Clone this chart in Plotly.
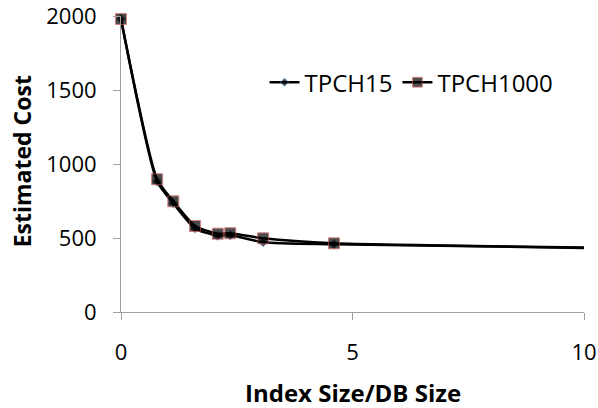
import plotly.graph_objects as go

x_vals = [0, 0.78, 1.13, 1.60, 2.09, 2.36, 3.07, 4.60, 10.0]
tpch15 = [1980, 882, 735, 565, 515, 518, 472, 458, 433]
tpch1000 = [1980, 897, 748, 581, 529, 532, 498, 464, 436]
marker_shown = [1, 1, 1, 1, 1, 1, 1, 1, 0]

x_ticks = [0, 5, 10]
y_ticks = [0, 500, 1000, 1500, 2000]

x_title = "Index Size/DB Size"
y_title = "Estimated Cost"

font_family = "Open Sans, Lato, sans-serif"

fig = go.Figure()
fig.add_trace(go.Scatter(
    x=x_vals, y=tpch15, name="TPCH15", mode="lines+markers",
    line=dict(color="black", width=2.5, shape="spline", smoothing=0.6),
    marker=dict(symbol="diamond", size=[7 * m for m in marker_shown], color="black",
                line=dict(color="#4F81BD", width=1)),
    cliponaxis=False,
))
fig.add_trace(go.Scatter(
    x=x_vals, y=tpch1000, name="TPCH1000", mode="lines+markers",
    line=dict(color="black", width=2.5, shape="spline", smoothing=0.6),
    marker=dict(symbol="square", size=[11 * m for m in marker_shown], color="black",
                line=dict(color="#C0504D", width=1)),
    cliponaxis=False,
))

fig.update_layout(
    width=598, height=408,
    margin=dict(l=121, r=14, t=16, b=96, autoexpand=False),
    paper_bgcolor="white", plot_bgcolor="white",
    font=dict(family=font_family, size=22, color="black"),
    showlegend=True,
    legend=dict(orientation="h", x=0.31, y=0.775, xanchor="left", yanchor="middle",
                font=dict(size=24), bgcolor="rgba(0,0,0,0)", itemwidth=30,
                tracegroupgap=0),
    xaxis=dict(
        range=[0, 10], tickvals=x_ticks, ticktext=[str(v) for v in x_ticks],
        showgrid=False, zeroline=False, showline=True, linecolor="#A0A0A0", linewidth=1,
        ticks="outside", ticklen=7, tickcolor="#A0A0A0", ticklabelstandoff=14,
        ticklabeloverflow="allow", automargin=False,
    ),
    yaxis=dict(
        range=[0, 2000], tickvals=y_ticks, ticktext=[str(v) for v in y_ticks],
        showgrid=False, zeroline=False, showline=True, linecolor="#A0A0A0", linewidth=1,
        ticks="outside", ticklen=7, tickcolor="#A0A0A0", ticklabelstandoff=12,
        ticklabeloverflow="allow", automargin=False,
    ),
    annotations=[
        dict(text="<b>" + x_title + "</b>", xref="paper", yref="paper",
             x=0.5, y=-0.271, xanchor="center", yanchor="middle",
             showarrow=False, font=dict(size=24)),
        dict(text="<b>" + y_title + "</b>", xref="paper", yref="paper",
             x=-0.2138, y=0.509, xanchor="center", yanchor="middle", textangle=-90,
             showarrow=False, font=dict(size=23)),
    ],
)

# remove the default 8px page margin so the 598x408 figure fills the window exactly
fig.write_html("out.html", config={"displayModeBar": False},
               post_script="document.body.style.margin='0';")
